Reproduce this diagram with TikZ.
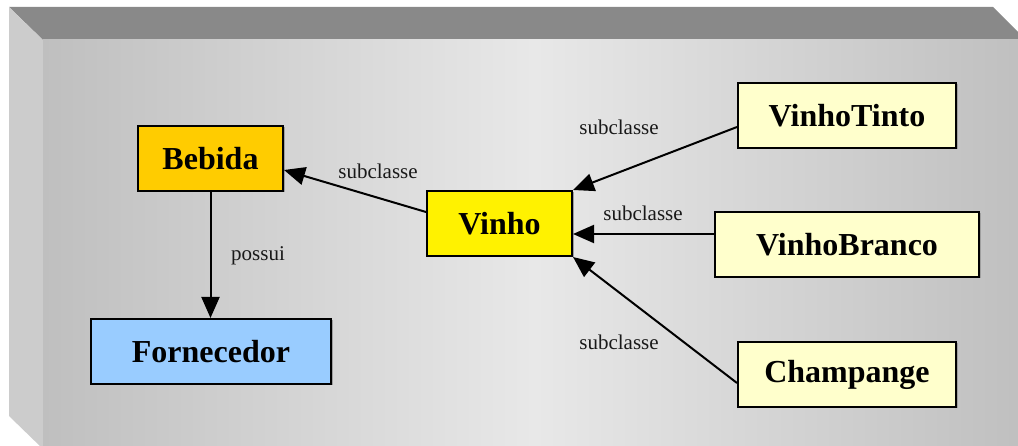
\documentclass[tikz,border=0pt]{standalone}
\usepackage{fontspec}
\setmainfont{Liberation Serif}
\usetikzlibrary{arrows.meta,shadows,calc}
\definecolor{topbevel}{HTML}{898989}
\definecolor{leftbevel}{HTML}{CCCCCC}
\definecolor{faceedge}{HTML}{BFBFBF}
\definecolor{facemid}{HTML}{E8E8E8}
\definecolor{gold}{HTML}{FFCC00}
\definecolor{lyellow}{HTML}{FFFFCC}
\definecolor{lblue}{HTML}{99CCFF}
\tikzset{
  cls/.style={draw=black, line width=2pt, inner sep=0pt, minimum height=65pt,
    font=\fontsize{32}{38}\selectfont\bfseries,
    general shadow={shadow xshift=1.5pt, shadow yshift=-1.5pt, fill=gray!75}},
  lbl/.style={font=\fontsize{21}{25}\selectfont, inner sep=0pt, text=black!90},
  arr/.style={line width=2pt, -{Triangle[length=21pt,width=18pt]}}
}
\begin{document}
\begin{tikzpicture}[x=1pt,y=-1pt]
\useasboundingbox (0,0) rectangle (1018,446);
\begin{scope}
\clip (0,0) rectangle (1018,446);
% cube-like frame
\fill[topbevel] (9,7) -- (993,7) -- (1026,40) -- (43,40) -- cycle;
\fill[leftbevel] (9,7) -- (43,40) -- (43,449) -- (9,416) -- cycle;
\shade[left color=faceedge, right color=faceedge, middle color=facemid] (43,40) rectangle (1026,449);
\end{scope}
% nodes
\node[cls, fill=gold, minimum width=145pt] (bebida) at (210.5,158.5) {Bebida};
\node[cls, fill=lblue, minimum width=240pt] (fornecedor) at (211,351.5) {Fornecedor};
\node[cls, fill=yellow, minimum width=145pt] (vinho) at (499.5,223.5) {Vinho};
\node[cls, fill=lyellow, minimum width=218pt] (vinhotinto) at (847,115.5) {VinhoTinto};
\node[cls, fill=lyellow, minimum width=264pt] (vinhobranco) at (847,244.5) {VinhoBranco};
\node[cls, fill=lyellow, minimum width=218pt] (champange) at (847,374.5) {Champange};
% connectors
\draw[arr] (bebida.south) -- (bebida.south |- fornecedor.north);
\draw[arr] ([yshift=11.5pt]vinho.west) -- ([yshift=-11.5pt]bebida.east);
\draw[arr] ([yshift=-11.5pt]vinhotinto.west) -- (vinho.north east);
\draw[arr] ([yshift=10.5pt]vinhobranco.west) coordinate (vbw) -- (vbw -| vinho.east);
\draw[arr] ([yshift=-8.5pt]champange.west) -- (vinho.south east);
% labels
\node[lbl] (lpossui) at (258,256) {possui};
\node[lbl] (lbebida) at (378,171) {subclasse};
\node[lbl] (ltinto) at (619,127) {subclasse};
\node[lbl] (lbranco) at (643,213) {subclasse};
\node[lbl] (lchamp) at (619,342) {subclasse};
\end{tikzpicture}
\end{document}
